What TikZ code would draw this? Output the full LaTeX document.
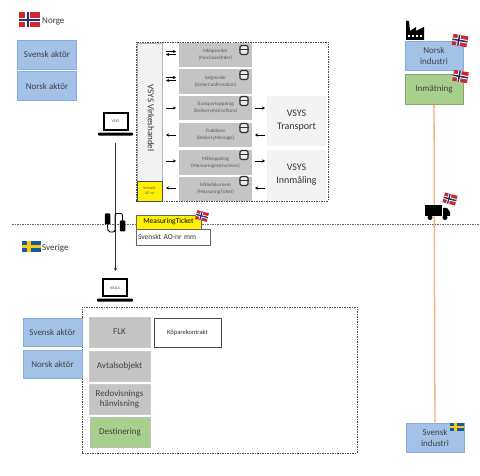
\documentclass[tikz,border=0pt]{standalone}
\usepackage{tikz}
\usepackage{xcolor}
\usepackage{fontspec}
\setmainfont{Carlito}
\usetikzlibrary{positioning,arrows.meta}
\definecolor{actorblue}{RGB}{163,194,232}
\definecolor{actorline}{RGB}{135,172,220}
\definecolor{rowgray}{RGB}{196,196,196}
\definecolor{greenbox}{RGB}{168,208,141}
\definecolor{softgray}{RGB}{243,243,243}
\definecolor{ticketyellow}{RGB}{255,242,0}
\definecolor{orangeline}{RGB}{244,177,131}
\definecolor{flagred}{RGB}{205,40,50}
\definecolor{flagblue}{RGB}{30,50,110}
\definecolor{swedeblue}{RGB}{20,90,160}
\definecolor{swedeyellow}{RGB}{250,200,20}
\tikzset{
    actor/.style={draw=actorline, fill=actorblue, minimum width=59pt, minimum height=29pt, inner sep=1pt, align=center, font=\fontsize{9}{11}\selectfont, text=black!75},
    rowbox/.style={fill=rowgray, minimum width=73pt, minimum height=24.5pt, inner sep=0pt, align=center, font=\fontsize{5}{7}\selectfont, text=black!65},
    grayfield/.style={draw=black!20, fill=rowgray, minimum width=61pt, minimum height=30pt, inner sep=0pt, align=center, font=\fontsize{9}{10.5}\selectfont, text=black!75},
    sysbox/.style={fill=softgray, minimum width=59pt, minimum height=50pt, align=center, font=\fontsize{10}{13}\selectfont, text=black!80},
    laptopscreen/.style={draw=black, line width=2pt, fill=white, minimum width=24pt, minimum height=17pt, inner sep=0pt, font=\fontsize{4}{5}\selectfont, text=black!70},
    laptopbase/.style={fill=black, minimum height=3pt, inner sep=0pt, rounded corners=1pt},
    smallarrow/.style={-{Stealth[length=3pt,width=3pt]}, black, line width=0.6pt},
    dottedframe/.style={draw=black!70, dash pattern=on 1.5pt off 1pt, line width=0.8pt},
    bagicon/.style={draw=black!80, line width=1.2pt, fill=black!8, rounded corners=1.5pt, minimum width=8pt, minimum height=9pt, inner sep=0pt},
    usbplug/.style={fill=black, rounded corners=1pt, minimum width=5.5pt, minimum height=11pt, inner sep=0pt},
}
% flags, #1 centre, #2 width, #3 height, #4 angle
\newcommand{\norflag}[4]{
\begin{scope}[shift={#1}, rotate=#4]
\fill[flagred] (-#2/2,-#3/2) rectangle (#2/2,#3/2);
\fill[white] (-#2*0.2,-#3/2) rectangle (#2*0.02,#3/2);
\fill[white] (-#2/2,-#3*0.16) rectangle (#2/2,#3*0.16);
\fill[flagblue] (-#2*0.14,-#3/2) rectangle (-#2*0.04,#3/2);
\fill[flagblue] (-#2/2,-#3*0.07) rectangle (#2/2,#3*0.07);
\end{scope}
}
\newcommand{\sweflag}[3]{
\begin{scope}[shift={#1}]
\fill[swedeblue] (-#2/2,-#3/2) rectangle (#2/2,#3/2);
\fill[swedeyellow] (-#2*0.2,-#3/2) rectangle (-#2*0.02,#3/2);
\fill[swedeyellow] (-#2/2,-#3*0.1) rectangle (#2/2,#3*0.1);
\end{scope}
}
\begin{document}
\begin{tikzpicture}[x=1pt,y=-1pt]
\useasboundingbox[fill=white] (0,0) rectangle (480,476);

% Norge
\norflag{(29.5,20)}{21}{15}{0}
\node[anchor=west, inner sep=0pt, font=\fontsize{9}{11}\selectfont, text=black!80] (norge) at (42,21) {Norge};
\node[actor] (svenskA) at (47,54.5) {Svensk aktör};
\node[actor] (norskA) at (47,86) {Norsk aktör};

% VSYS frame
\node[dottedframe, minimum width=192pt, minimum height=159pt, inner sep=0pt] (vsysframe) at (232,121.5) {};
\node[draw=black!30, fill=softgray, minimum width=25pt, minimum height=138pt, inner sep=0pt] (virke) at (149.5,112) {};
\node[rotate=-90, font=\fontsize{9}{11}\selectfont, text=black!80] (virketext) at (151,118) {VSYS Virkeshandel};
\node[draw=black!70, fill=ticketyellow, minimum width=25pt, minimum height=20pt, inner sep=0pt, align=center, font=\fontsize{4}{5}\selectfont, text=black!60] (adnr) at (149.5,191) {Svenskt\\AD-nr};

\node[rowbox] (r1) at (215.5,55) {Inköpsorder\\(PurchaseOrder)};
\node[rowbox] (r2) at (215.5,81.5) {Salgsorder\\(OrderConfirmation)};
\node[rowbox] (r3) at (215.5,108) {Transportoppdrag\\(DeliveryInstructions)};
\node[rowbox] (r4) at (215.5,135) {Fraktbrev\\(DeliveryMessage)};
\node[rowbox] (r5) at (215.5,162.5) {Måleoppdrag\\(MeasuringInstructions)};
\node[rowbox] (r6) at (215.5,189) {Måledokument\\(MeasuringTicket)};

\foreach \n/\x/\y in {i1/244/50,i2/244/75,i3/244/101,i4/244/128,i5/244/155,i6/244/181}{
    \node[bagicon] (\n) at (\x,\y) {};
    \draw[black!80, line width=1pt] (\n.west) -- (\n.east);
}

\node[sysbox] (transport) at (296.5,121) {VSYS\\Transport};
\node[sysbox] (innmaling) at (296.5,175) {VSYS\\Innmåling};

% arrows next to the rows
\foreach \y in {53,79}{
    \draw[smallarrow] (166,\y-1.5) -- (176,\y-1.5);
    \draw[smallarrow] (176,\y+1.5) -- (166,\y+1.5);
}
\draw[smallarrow] (166,108) -- (176,108);
\draw[smallarrow] (176,135) -- (166,135);
\draw[smallarrow] (166,161) -- (176,161);
\draw[smallarrow] (176,188) -- (166,188);
\draw[smallarrow] (255,108) -- (265,108);
\draw[smallarrow] (265,135) -- (255,135);
\draw[smallarrow] (255,161) -- (265,161);
\draw[smallarrow] (265,188) -- (255,188);

% border
\draw[black!60, dash pattern=on 1.5pt off 1pt, line width=0.8pt] (12,224) -- (480,224);
\sweflag{(31,246.5)}{19}{11}
\node[anchor=west, inner sep=0pt, font=\fontsize{9}{11}\selectfont, text=black!80] (sverige) at (42,248) {Sverige};

% laptops
\node[laptopscreen] (vsys) at (115.5,121.5) {VSYS};
\node[laptopbase, minimum width=35pt, below=1.5pt of vsys] (vsysbase) {};
\node[laptopscreen] (viola) at (115,288) {VIOLA};
\node[laptopbase, minimum width=36pt, below=1pt of viola] (violabase) {};
\coordinate (wiretop) at (115.5,143);
\coordinate (wireend) at (115.5,271);
\draw[-{Stealth[length=3pt,width=3.5pt]}, black!80, line width=0.7pt] (wiretop) -- (wireend);

% usb cable
\node[usbplug] (usbA) at (107.5,219) {};
\node[usbplug] (usbB) at (122.5,226) {};
\draw[black, line width=0.9pt, rounded corners=2pt] (usbA.south) -- (108,232) -- (115,232) -- (115,213.5) -- (122.5,213.5) -- (usbB.north);

% ticket
\node[draw=black!60, fill=ticketyellow, minimum width=65pt, minimum height=14pt, inner sep=0pt, font=\fontsize{7.5}{9}\selectfont] (ticket) at (168.5,222) {MeasuringTicket};
\node[draw=black!60, fill=white, minimum width=74pt, minimum height=15.5pt, inner sep=2pt, anchor=north west, font=\fontsize{7.5}{9}\selectfont, text=black!80, text width=70pt, align=left] (aonr) at (ticket.south west) {Svenskt AO-nr mm};
\norflag{(202,216)}{12}{9}{-15}

% VIOLA frame
\node[dottedframe, minimum width=275pt, minimum height=146pt, inner sep=0pt] (violaframe) at (219.5,380) {};
\node[actor, minimum height=28pt] (svenskB) at (52.5,332) {Svensk aktör};
\node[actor, minimum height=28pt] (norskB) at (52.5,364) {Norsk aktör};
\node[grayfield] (flk) at (119.5,332) {FLK};
\node[grayfield] (avtal) at (119.5,366) {Avtalsobjekt};
\node[grayfield] (redov) at (119.5,399) {Redovisnings\\hänvisning};
\node[grayfield, draw=black!25, fill=greenbox, minimum width=60pt] (dest) at (120,432) {Destinering};
\node[draw=black!70, fill=white, minimum width=67pt, minimum height=29pt, inner sep=0pt, font=\fontsize{6.5}{8}\selectfont, text=black!80] (kopare) at (187.5,332.5) {Köparekontrakt};

% right side
\node[actor, minimum width=58pt] (norskind) at (434,55.5) {Norsk\\industri};
\node[actor, draw=greenbox!80!black, fill=greenbox, minimum width=58pt, minimum height=30pt] (inmat) at (434,89) {Inmätning};
\node[actor, minimum width=58pt] (svenskind) at (435,437.5) {Svensk\\industri};
\draw[{Stealth[length=3pt,width=3pt]}-{Stealth[length=3pt,width=3pt]}, orangeline, line width=1.3pt] (inmat) -- (svenskind);
\norflag{(460,40.5)}{15}{11}{-10}
\norflag{(460.5,76.5)}{15}{11}{-10}
\norflag{(450,199)}{13}{10}{-15}
\sweflag{(457,427)}{14}{8}

% factory
\fill[black] (406,40) -- (406,21) -- (409,21) -- (410,31) -- (416,27) -- (416,31) -- (424,27) -- (424,40) -- cycle;
\foreach \x in {408,412,416,420}{
    \fill[white] (\x,35) rectangle +(2,2);
}

% truck
\fill[black] (425,205) rectangle (442,216);
\fill[black] (443,208) -- (447,208) -- (450,212) -- (450,216) -- (443,216) -- cycle;
\fill[black] (430,217.5) circle (2.5pt);
\fill[black] (445,217.5) circle (2.5pt);
\end{tikzpicture}
\end{document}
